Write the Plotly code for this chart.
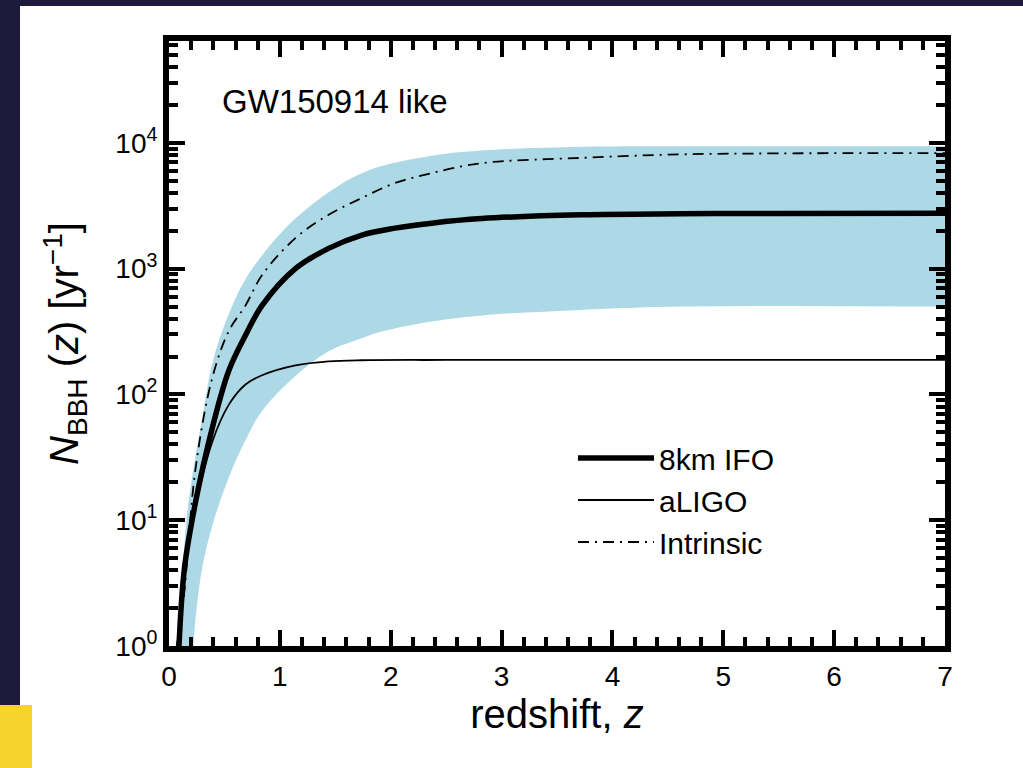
import plotly.graph_objects as go

# ---- data ----
z_8km = [0.09, 0.14, 0.24, 0.39, 0.54, 0.69, 0.84, 1.14, 1.44, 1.74, 2.04, 2.37, 2.82, 3.72, 4.62, 5.5, 7.0]
n_8km = [1.0, 4.2, 14, 54, 155, 295, 510, 1000, 1450, 1850, 2100, 2300, 2500, 2680, 2730, 2750, 2760]

z_aligo = [0.09, 0.14, 0.24, 0.39, 0.54, 0.69, 0.84, 1.14, 1.44, 1.74, 2.5, 7.0]
n_aligo = [1.0, 4.2, 13, 42, 83, 120, 142, 170, 183, 187, 188, 188]

z_intr = [0.07, 0.13, 0.24, 0.39, 0.54, 0.69, 0.84, 1.14, 1.44, 1.74, 2.04, 2.37, 2.82, 3.72, 4.62, 5.5, 7.0]
n_intr = [1.0, 2.3, 26, 135, 320, 510, 890, 1750, 2680, 3650, 4800, 5750, 6900, 7600, 8100, 8250, 8300]

z_band_up = [0.09, 0.16, 0.30, 0.42, 0.66, 0.87, 1.14, 1.53, 1.86, 2.37, 2.82, 3.72, 4.62, 7.0]
n_band_up = [1.0, 10.5, 65, 220, 740, 1380, 2500, 4570, 6300, 7900, 8700, 9300, 9400, 9400]

z_band_lo = [0.22, 0.24, 0.30, 0.39, 0.54, 0.70, 0.84, 1.14, 1.44, 1.74, 1.92, 2.37, 2.82, 3.72, 4.62, 7.0]
n_band_lo = [1.0, 1.66, 4.2, 9, 22, 45, 74, 140, 220, 280, 316, 380, 425, 470, 500, 500]

x_ticks = [0, 1, 2, 3, 4, 5, 6, 7]
y_ticks = [1, 10, 100, 1000, 10000]
y_ticktext = ["10<sup>0</sup>", "10<sup>1</sup>", "10<sup>2</sup>", "10<sup>3</sup>", "10<sup>4</sup>"]
y_minor = [m * 10 ** k for k in range(0, 5) for m in range(2, 10)]

FONT = "Liberation Sans, Arial, Helvetica, sans-serif"
NAVY = "#1e1a3e"

fig = go.Figure()
fig.add_trace(go.Scatter(x=z_band_lo, y=n_band_lo, mode="lines",
                         line=dict(width=0, shape="spline"), showlegend=False, hoverinfo="skip"))
fig.add_trace(go.Scatter(x=z_band_up, y=n_band_up, mode="lines", fill="tonexty",
                         fillcolor="#add8e6", line=dict(width=0, shape="spline"),
                         showlegend=False, hoverinfo="skip"))
fig.add_trace(go.Scatter(x=z_8km, y=n_8km, mode="lines", name="8km IFO",
                         line=dict(color="black", width=5.5, shape="spline")))
fig.add_trace(go.Scatter(x=z_aligo, y=n_aligo, mode="lines", name="aLIGO",
                         line=dict(color="black", width=1.8, shape="spline")))
fig.add_trace(go.Scatter(x=z_intr, y=n_intr, mode="lines", name="Intrinsic",
                         line=dict(color="black", width=1.8, shape="spline", dash="11px,6px,2px,6px")))

L, R, T, B = 169, 945, 41, 646
W, H = 1023, 768
pw, ph = R - L, B - T

def px(x):
    return (x - L) / pw

def py(y):
    return (B - y) / ph

shapes = [
    dict(type="rect", xref="paper", yref="paper", x0=px(20), x1=px(1030), y0=py(775), y1=py(6),
         fillcolor="white", line=dict(width=0), layer="below"),
    dict(type="rect", xref="paper", yref="paper", x0=px(-5), x1=px(32), y0=py(775), y1=py(705),
         fillcolor="#f6d32d", line=dict(width=0), layer="below"),
]

fig.update_layout(
    width=W, height=H,
    margin=dict(l=L, r=W - R, t=T, b=H - B),
    paper_bgcolor=NAVY, plot_bgcolor="white",
    font=dict(family=FONT, color="black", size=28),
    shapes=shapes,
    showlegend=True,
    legend=dict(x=px(573), y=py(432), xanchor="left", yanchor="top",
                bgcolor="rgba(0,0,0,0)", font=dict(size=30, family=FONT),
                traceorder="normal", tracegroupgap=0, itemwidth=76),
    annotations=[dict(text="GW150914 like", xref="paper", yref="paper",
                      x=px(220), y=py(101), xanchor="left", yanchor="middle",
                      showarrow=False, font=dict(size=33, family=FONT))],
)

fig.update_xaxes(
    range=[0, 7], tickmode="array", tickvals=x_ticks,
    ticks="inside", ticklen=16, tickwidth=4, tickcolor="black",
    minor=dict(ticks="inside", ticklen=9, tickwidth=4, tickcolor="black", dtick=0.2, tick0=0),
    showline=True, linewidth=6, linecolor="black", mirror="ticks",
    showgrid=False, zeroline=False,
    tickfont=dict(size=28, family=FONT),
    title=dict(text="redshift, <i>z</i>", font=dict(size=40, family=FONT), standoff=6),
)
fig.update_yaxes(
    type="log", range=[0, 4.81], tickmode="array", tickvals=y_ticks, ticktext=y_ticktext,
    ticks="inside", ticklen=16, tickwidth=4, tickcolor="black",
    minor=dict(ticks="inside", ticklen=9, tickwidth=4, tickcolor="black",
               tickmode="array", tickvals=y_minor),
    showline=True, linewidth=6, linecolor="black", mirror="ticks",
    showgrid=False, zeroline=False,
    tickfont=dict(size=28, family=FONT),
    title=dict(text="<i>N</i><sub>BBH</sub> (<i>z</i>) [yr<sup>−1</sup>]",
               font=dict(size=40, family=FONT), standoff=26),
)

fig.write_html("out.html")
